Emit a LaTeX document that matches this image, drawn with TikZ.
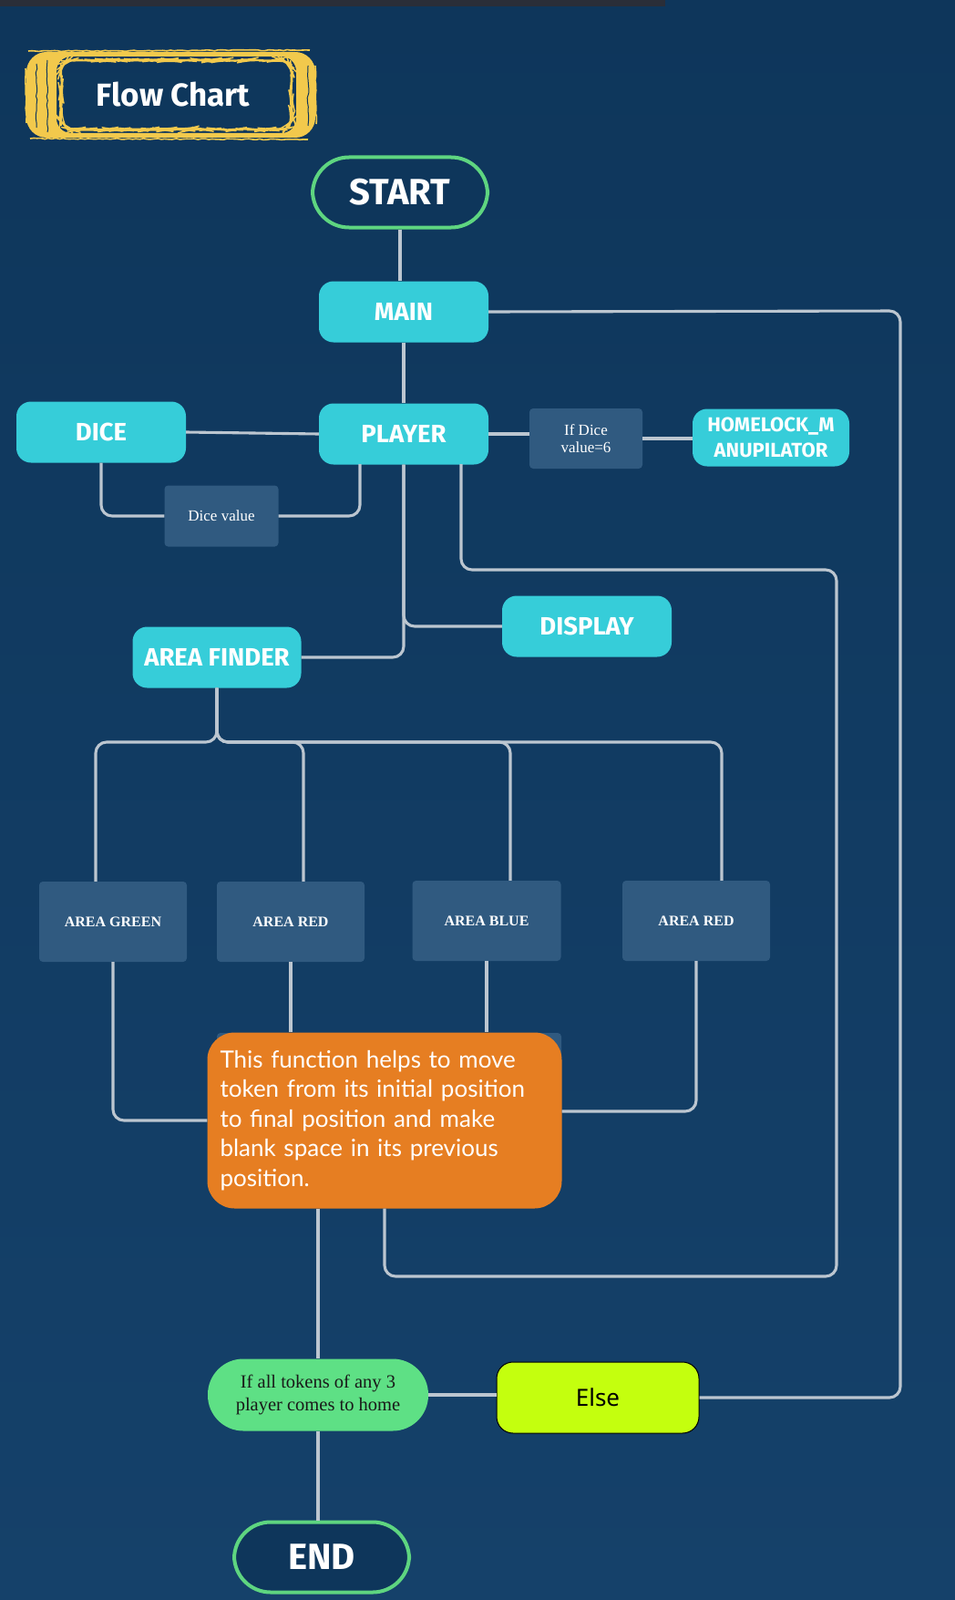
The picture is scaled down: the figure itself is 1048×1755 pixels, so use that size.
\documentclass[tikz,border=0pt]{standalone}
\usepackage{fontspec}
\setmainfont{Liberation Serif}
\newfontfamily\headfont{Fira Sans}
\newfontfamily\bodyfont{Lato}
\newfontfamily\elsefont{Noto Sans}
\usetikzlibrary{decorations.pathmorphing}

\definecolor{bgtop}{HTML}{0E365B}
\definecolor{bgbot}{HTML}{15416A}
\definecolor{modcyan}{HTML}{36CDD9}
\definecolor{notebox}{HTML}{305A80}
\definecolor{linegray}{HTML}{BCC6D0}
\definecolor{termgreen}{HTML}{5ED580}
\definecolor{condgreen}{HTML}{5EE085}
\definecolor{moveorange}{HTML}{E67E22}
\definecolor{elselime}{HTML}{C4FF0E}
\definecolor{brushyellow}{HTML}{F2C94C}
\definecolor{topbar}{HTML}{2A2E38}

\newcommand\modfont{\headfont\bfseries\fontsize{27.5}{30}\selectfont}
\newcommand\termfont{\headfont\bfseries\fontsize{40}{42}\selectfont}

\tikzset{
  module/.style={fill=modcyan, rounded corners=16pt, text=white, font=\modfont,
    minimum width=186pt, minimum height=67pt, inner sep=2pt},
  notebox/.style={fill=notebox, rounded corners=4pt, text=white, align=center,
    font=\fontsize{17}{19}\selectfont, inner sep=2pt},
  areabox/.style={notebox, minimum width=162pt, minimum height=88pt,
    font=\bfseries\fontsize{16}{18}\selectfont},
  terminal/.style={draw=termgreen, line width=4pt, fill=bgtop, rounded corners=40pt,
    text=white, font=\termfont, minimum width=192pt, minimum height=77pt},
  link/.style={draw=linegray, line width=3.1pt, rounded corners=12pt},
  brush/.style={brushyellow, decorate,
    decoration={random steps, segment length=4pt, amplitude=0.6pt}},
}

\begin{document}
\begin{tikzpicture}[x=1pt, y=-1pt]
\useasboundingbox (0,0) rectangle (1048,1755);
\shade[top color=bgtop, bottom color=bgbot] (0,0) rectangle (1048,1755);
\fill[topbar] (0,0) rectangle (730,7);

% title frame
\fill[brushyellow, even odd rule]
  (29,57) [rounded corners=22pt] rectangle (346,151)
  (62,62) [rounded corners=16pt] rectangle (325,146);
\draw[brush, line width=1.6pt] (31,56) -- (340,55) (33,152) -- (338,153)
  (28,75) -- (29,135) (346,72) -- (347,136);
\draw[brush, line width=1.4pt, rounded corners=14pt] (67,66) rectangle (320,142);
\draw[bgtop, line width=1pt, decorate,
  decoration={random steps, segment length=5pt, amplitude=0.8pt}]
  (40,70) -- (40,140) (52,66) -- (52,145) (338,72) -- (338,138);
\node[text=white, font=\headfont\bfseries\fontsize{35}{37}\selectfont] (title) at (190,104) {Flow Chart};

% nodes
\node[terminal] (start) at (439,211) {START};
\node[module] (main) at (443,342) {MAIN};
\node[module] (dice) at (111,474) {DICE};
\node[module] (player) at (443,476) {PLAYER};
\node[notebox, minimum width=125pt, minimum height=67pt] (dval) at (243,566) {Dice value};
\node[notebox, minimum width=124pt, minimum height=66pt] (ifsix) at (643,481) {If Dice\\value=6};
\node[module, minimum width=172pt, minimum height=63pt, align=center,
  font=\headfont\bfseries\fontsize{22}{28}\selectfont] (homelock) at (846,480) {HOMELOCK\_M\\ANUPILATOR};
\node[module] (display) at (644,687) {DISPLAY};
\node[module, minimum width=185pt] (finder) at (238,721) {AREA FINDER};
\node[areabox] (green) at (124,1011) {AREA GREEN};
\node[areabox] (redA) at (319,1011) {AREA RED};
\node[areabox, minimum width=163pt] (blue) at (534,1010) {AREA BLUE};
\node[areabox] (redB) at (764,1010) {AREA RED};
\fill[notebox, rounded corners=4pt] (238,1133) rectangle (616,1200);
\node[fill=moveorange, rounded corners=30pt, text=white, align=left,
  minimum width=389pt, minimum height=193pt, text width=361pt, inner sep=0pt,
  font=\bodyfont\fontsize{26}{32.5}\selectfont] (move) at (422,1229)
  {This function helps to move\\token from its initial position\\to final position and make\\blank space in its previous\\position.};
\node[fill=condgreen, rounded corners=39pt, text=black!90, align=center,
  minimum width=242pt, minimum height=79pt, font=\fontsize{20.5}{25}\selectfont] (ifall) at (349,1530)
  {If all tokens of any 3\\player comes to home};
\node[fill=elselime, draw=black, line width=1pt, rounded corners=18pt, text=black,
  minimum width=222pt, minimum height=78pt, font=\elsefont\fontsize{26}{28}\selectfont] (else) at (656,1533) {Else};
\node[terminal] (end) at (353,1708) {END};

% helper points
\coordinate (pdv) at (395,509);
\coordinate (pmv) at (506,509);
\coordinate (loopa) at (918,625);
\coordinate (loopb) at (918,1400);
\coordinate (rtop) at (988,341);

% connectors
\draw[link] (start.south) -- (start.south |- main.north);
\draw[link] (main.south) -- (player.north);
\draw[link] (main.east) -- (rtop) -- (rtop |- else.east) -- (else.east);
\draw[link] (dice.east) -- (player.west);
\draw[link] (dice.south) |- (dval.west);
\draw[link] (dval.east) -| (pdv);
\draw[link] (player.east) -- (player.east -| ifsix.west);
\draw[link] (ifsix.east) -- (ifsix.east -| homelock.west);
\draw[link] (pmv) |- (loopa) -- (loopb) -| (move.south);
\draw[link] (player.south) |- (display.west);
\draw[link] (player.south) |- (finder.east);
\foreach \n/\x in {green/105, redA/333, blue/560, redB/792}
  \draw[link] (finder.south) |- (\x,814) -- (\x,814 |- \n.north);
\draw[link] (green.south) |- (move.west);
\draw[link] (redA.south) -- (redA.south |- move.north);
\draw[link] (blue.south) -- (blue.south |- move.north);
\draw[link] (redB.south) |- ([yshift=10pt]move.east);
\draw[link] (ifall.north |- move.south) -- (ifall.north);
\draw[link] (ifall.south) -- (ifall.south |- end.north);
\draw[link] (ifall.east) -- (ifall.east -| else.west);
\end{tikzpicture}
\end{document}
